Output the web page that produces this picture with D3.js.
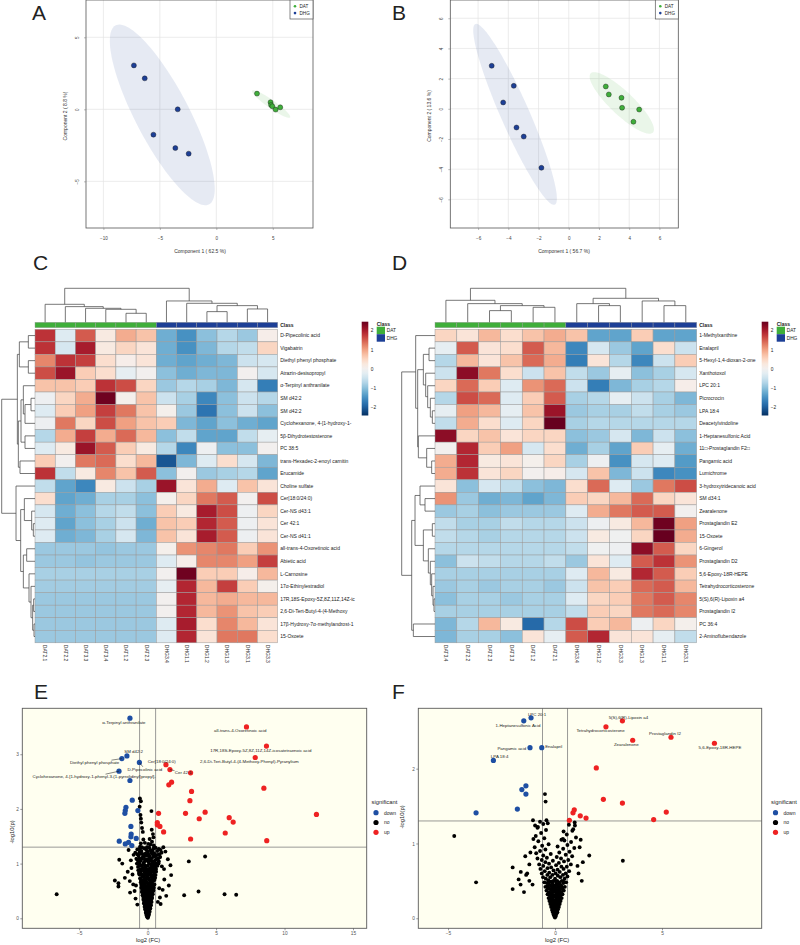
<!DOCTYPE html>
<html><head><meta charset="utf-8">
<script src="https://cdn.jsdelivr.net/npm/d3@7"></script>
<style>body{margin:0;background:#fff}svg{display:block}</style>
</head><body><svg id="c" width="800" height="945"></svg>
<script>
// ---------------- DATA ----------------
// PCA scores (Component 1, Component 2)
const pcaA_DAT = [[3.6,1.09],[4.8,0.49],[4.85,0.3],[4.96,0.21],[5.25,-0.02],[5.66,0.14]];
const pcaA_DHG = [[-7.3,3.05],[-6.34,2.15],[-3.42,0.0],[-5.57,-1.76],[-3.63,-2.69],[-2.45,-3.08]];
const pcaB_DAT = [[2.45,1.48],[2.65,0.95],[3.49,0.73],[3.53,0.07],[4.66,-0.05],[4.28,-0.86]];
const pcaB_DHG = [[-5.1,2.85],[-3.64,1.52],[-4.34,0.42],[-3.46,-1.24],[-2.98,-1.84],[-1.81,-3.91]];
const pcaA_xticks = [-10,-5,0,5], pcaA_yticks = [-5,0,5];
const pcaB_xticks = [-6,-4,-2,0,2,4,6], pcaB_yticks = [-6,-4,-2,0,2,4,6];
const groups = ["DAT","DHG"];

// Heatmap C
const hmC_cols = ["DAT2.1","DAT2.2","DAT3.3","DAT3.4","DAT1.2","DAT2.3","DHG3.4","DHG1.1","DHG1.2","DHG1.3","DHG3.1","DHG3.3"];
const hmC_class = ["DAT","DAT","DAT","DAT","DAT","DAT","DHG","DHG","DHG","DHG","DHG","DHG"];
const hmC_rows = ["D-Pipecolinic acid","Vigabatrin","Diethyl phenyl phosphate","Atrazin-desisopropyl","α-Terpinyl anthranilate","SM d42:2","SM d42:2","Cyclohexanone, 4-[1-hydroxy-1-","5β-Dihydrotestosterone","PC 38:5","trans-Hexadec-2-enoyl carnitin","Erucamide","Choline sulfate","Cer[18:0/24:0)","Cer-NS d43:1","Cer 42:1","Cer-NS d41:1","all-trans-4-Oxoretinoic acid","Abietic acid","L-Carnosine","17α-Ethinylestradiol","17R,18S-Epoxy-5Z,8Z,11Z,14Z-ic","2,6-Di-Tert-Butyl-4-(4-Methoxy","17β-Hydroxy-7α-methylandrost-1","15-Oxoete"];
const hmC_vals = [
[1.8,-0.3,1.5,0.2,0.9,0.7,-1.2,-1.5,-1.0,-0.7,-0.9,0.1],
[1.8,-0.4,2.0,0.2,0.5,0.3,-1.2,-1.5,-1.1,-0.7,-0.6,0.5],
[1.2,1.8,1.7,0.4,0.1,0.3,-1.2,-1.3,-1.2,-1.1,-0.5,-0.4],
[1.6,2.1,0.6,0.4,-0.2,0.0,-1.0,-1.2,-1.1,-1.1,0.0,-0.4],
[0.7,0.7,0.6,1.8,1.6,0.5,-0.9,-0.7,-0.8,-1.1,-0.4,-1.7],
[-0.1,0.5,0.9,2.4,0.05,0.7,-0.5,-0.8,-1.6,-1.0,-0.5,-0.7],
[-0.3,0.6,1.0,1.7,1.3,0.7,0.05,-0.9,-1.8,-1.0,-0.5,-1.0],
[-0.1,1.3,0.5,1.6,1.0,0.7,0.6,-1.1,-1.3,-1.0,-1.2,-1.3],
[-0.7,0.9,1.7,0.9,1.4,0.8,-1.0,-0.6,-1.3,-1.3,-0.6,-0.2],
[-0.3,0.2,2.1,1.5,0.6,0.2,-0.7,-1.6,-0.1,-1.0,-1.0,0.0],
[0.6,0.0,1.3,1.4,0.4,0.8,-2.1,-1.1,-0.3,0.4,-0.4,-1.1],
[1.8,-0.6,0.2,1.2,0.7,1.5,-1.0,0.0,-0.9,-0.8,-0.7,-1.3],
[-0.6,-1.3,-1.6,0.2,-0.5,-0.8,2.1,0.3,0.9,-0.3,0.7,0.3],
[0.4,-1.3,-1.2,-0.8,-0.8,-1.0,0.05,0.5,1.3,1.5,0.0,1.6],
[-0.4,-1.2,-1.0,-0.7,-0.6,-1.0,0.6,0.2,2.0,1.6,-0.1,0.5],
[-0.3,-1.3,-1.0,-0.8,-0.5,-1.2,0.7,0.6,1.9,1.5,-0.1,0.3],
[-0.3,-1.2,-1.1,-0.8,-0.4,-1.1,0.7,0.3,2.0,1.5,-0.1,0.3],
[-0.9,-0.9,-0.9,-0.95,-0.9,-0.9,0.05,1.1,1.2,1.3,0.6,1.1],
[-0.9,-0.9,-0.95,-0.9,-0.9,-0.9,-0.3,0.1,1.2,1.2,1.0,1.7],
[-0.8,-0.8,-0.8,-0.8,-0.8,-0.8,0.0,2.4,0.6,0.6,0.1,0.8],
[-0.85,-0.85,-0.85,-0.85,-0.85,-0.85,-0.2,1.9,0.8,1.7,0.6,0.05],
[-0.9,-0.9,-0.9,-0.9,-0.9,-0.9,0.0,1.9,0.8,0.9,0.8,0.8],
[-0.9,-0.9,-0.9,-0.9,-0.9,-0.9,0.0,1.9,0.8,1.1,0.7,0.6],
[-0.9,-0.9,-0.9,-0.9,-0.9,-0.9,-0.3,2.0,0.4,1.2,0.8,0.3],
[-0.9,-0.9,-0.9,-0.9,-0.9,-0.9,-0.3,1.9,0.3,1.3,1.3,0.4]];
// dendrograms: [left, right, mergeHeight]; leaves are indices
const hmC_colTree = [[0,[1,[2,[3,[4,5,27],39],42],47],54],[6,[7,[[8,9,32],[10,11,40],50],57],64],102];
const hmC_rowTree = [
  [[[0,1,20],[2,3,20],47],[[[4,[[5,6,12],7,30],35],[8,9,30],42],[10,11,45],50],53],
  [12,[[13,[14,[15,16,5],10],32],[[17,18,25],[19,[20,[[21,22,4],[23,24,3],7],12],18],35],43],57],
  100];

// Heatmap D
const hmD_cols = ["DAT3.4","DAT2.2","DAT2.3","DAT3.3","DAT1.2","DAT2.1","DHG3.4","DHG1.2","DHG3.3","DHG1.3","DHG1.1","DHG3.1"];
const hmD_class = ["DAT","DAT","DAT","DAT","DAT","DAT","DHG","DHG","DHG","DHG","DHG","DHG"];
const hmD_rows = ["1-Methylxanthine","Enalapril","5-Hexyl-1,4-dioxan-2-one","Xanthotoxol","LPC 20:1","Picrocrocin","LPA 18:4","Deacetylvindoline","1-Heptanesulfonic Acid","11\u25A1-Prostaglandin F2\u25A1","Pangamic acid","Lumichrome","3-hydroxytridecanoic acid","SM d34:1","Zearalenone","Prostaglandin E2","15-Oxoete","6-Gingerol","Prostaglandin D2","5,6-Epoxy-18R-HEPE","Tetrahydrocorticosterone","5(S),6(R)-Lipoxin a4","Prostaglandin I2","PC 36:4","2-Aminoflubendazole"];
const hmD_vals = [
[0.5,0.3,0.8,0.4,0.7,0.9,0.7,-1.3,-1.3,0.6,-1.3,-1.3],
[-0.2,1.5,0.3,0.4,1.5,0.8,-1.6,-0.4,-0.9,-1.3,0.4,-0.5],
[-0.7,0.8,0.3,0.7,1.4,0.9,-1.7,0.3,-0.7,-1.6,-0.5,0.6],
[-0.5,2.2,1.3,0.4,-0.5,0.7,-0.6,-0.9,-0.2,-1.0,-0.8,-0.4],
[0.5,1.4,0.6,-0.3,1.1,1.4,-0.5,-1.7,-1.1,-0.8,-0.7,0.1],
[-0.7,1.6,1.4,-0.3,0.6,1.5,-0.8,-0.7,-0.2,-0.5,-0.8,-1.1],
[-0.2,1.0,0.8,-0.2,0.7,2.1,-0.9,-0.8,-0.8,-0.6,-0.8,-0.9],
[-0.6,0.9,0.4,-0.3,0.5,2.45,-0.8,-0.7,-0.7,-0.7,-0.7,-0.7],
[2.2,0.5,0.7,0.3,0.5,0.5,-1.0,-0.9,-0.4,-1.1,-0.5,-1.0],
[0.0,1.9,0.6,1.0,-0.4,0.4,-1.2,-0.8,-1.3,0.6,-0.2,-1.2],
[0.9,1.9,0.2,0.3,0.05,0.5,-0.8,-0.1,-1.5,-0.4,-0.3,-1.4],
[0.9,1.8,0.3,0.5,0.0,0.1,-0.4,0.7,-1.1,-0.5,-1.6,-1.5],
[0.3,-1.0,-0.4,-0.6,-1.0,-1.1,0.4,1.4,-0.3,-0.9,1.3,1.6],
[1.1,-0.9,-1.2,-1.1,-1.3,-1.1,0.6,0.5,0.8,1.4,0.5,0.3],
[-0.9,-0.8,-1.0,-0.9,-0.9,-0.9,-0.3,0.9,1.3,1.5,1.5,0.0],
[-0.6,-0.8,-0.8,-0.6,-0.7,-0.7,-0.5,-0.1,0.2,0.8,2.4,1.0],
[-0.6,-0.7,-0.8,-0.7,-0.7,-0.7,-0.5,0.2,-0.05,0.5,2.5,0.9],
[-0.7,-0.7,-0.7,-0.7,-0.7,-0.7,-0.6,-0.05,-0.1,2.2,1.5,0.5],
[-1.0,-0.5,-0.6,-0.7,-0.7,-0.6,-0.9,0.3,-0.3,1.5,1.8,1.1],
[-0.8,-0.8,-0.8,-0.8,-0.8,-0.8,-0.3,0.8,0.2,1.9,1.5,0.6],
[-0.9,-0.8,-0.9,-0.8,-0.8,-0.9,-0.5,0.7,0.6,1.4,1.5,0.8],
[-1.0,-0.8,-0.8,-0.9,-0.8,-0.8,-0.3,0.5,0.6,1.3,1.5,1.2],
[-0.8,-0.8,-0.8,-0.8,-0.8,-0.8,-0.6,0.6,0.5,1.3,1.4,1.2],
[-1.1,-0.7,0.8,0.2,-1.9,-0.7,1.6,0.6,0.8,-0.1,0.5,0.05],
[-1.1,-0.8,-0.8,-1.0,0.3,-0.2,1.5,1.9,0.3,0.3,-0.2,-0.6]];
const hmD_colTree = [[0,[1,[[2,3,35],[4,5,45],50],56],66],[[6,[7,8,50],56],[9,[10,11,50],64],72],102];
const hmD_rowTree = [
  [0,[[[1,2,18],[3,[4,[5,[6,7,8],14],22],28],35],[8,[9,[10,11,10],25],50],52],58],
  [[[12,[13,14,30],45],[[15,16,8],[17,[18,[19,[20,[21,22,3],6],10],14],20],35],60],[23,24,65],70],
  100];
const legendTicks = [2,1,0,-1,-2];

// Volcano E: [log2(FC), -log10(p)]
const volE_down = [[-1.29,3.66],[-1.51,2.97],[-1.88,2.92],[-0.6,2.85],[-2.09,2.69],[-1.29,2.52],[-1.12,2.16],[-1.58,2.03],[-1.63,1.97],[-1.66,1.92],[-0.71,1.97],[-1.22,1.68],[-1.2,1.54],[-1.22,1.49],[-0.83,1.46],[-2.07,1.41],[-1.63,1.36],[-1.39,1.39],[-1.15,1.33]];
const volE_up = [[7.22,3.5],[8.68,3.15],[7.86,2.94],[1.34,2.81],[1.63,2.72],[3.14,2.66],[1.75,2.49],[1.55,2.44],[8.49,2.38],[3.21,2.32],[3.09,2.15],[2.77,1.92],[0.8,1.92],[4.2,1.94],[12.33,1.9],[3.77,1.82],[5.96,1.84],[6.25,1.76],[0.71,1.75],[0.71,1.71],[0.9,1.68],[1.17,1.58],[5.67,1.56],[3.14,1.45],[8.7,1.42]];
const volE_no = [[0.02,0.01],[-0.04,0.03],[0.06,0.04],[-0.09,0.06],[0.1,0.07],[0.01,0.09],[-0.13,0.1],[0.15,0.12],[-0.06,0.13],[0.07,0.15],[-0.18,0.16],[0.2,0.18],[-0.02,0.19],[-0.22,0.21],[0.12,0.22],[0.25,0.24],[-0.12,0.25],[-0.27,0.27],[0.03,0.28],[0.29,0.3],[-0.17,0.31],[0.15,0.33],[-0.31,0.34],[-0.05,0.36],[0.33,0.37],[0.22,0.39],[-0.24,0.4],[-0.37,0.42],[0.08,0.42],[0.38,0.44],[-0.11,0.46],[-0.42,0.48],[0.27,0.47],[0.01,0.5],[-0.29,0.52],[0.43,0.51],[0.15,0.54],[-0.46,0.56],[-0.16,0.57],[0.35,0.58],[0.04,0.6],[-0.35,0.62],[0.5,0.62],[0.22,0.64],[-0.5,0.66],[-0.08,0.66],[0.41,0.68],[-0.24,0.7],[0.12,0.71],[-0.55,0.73],[0.55,0.74],[0.3,0.75],[-0.4,0.76],[-0.02,0.78],[-0.6,0.8],[0.47,0.8],[0.18,0.82],[-0.2,0.83],[0.62,0.85],[-0.48,0.86],[-0.68,0.88],[0.36,0.88],[0.05,0.9],[-0.33,0.92],[0.55,0.93],[-0.12,0.95],[0.71,0.96],[-0.58,0.97],[0.25,0.98],[-0.78,1.0],[0.44,1.0],[-0.27,1.02],[0.08,1.03],[0.82,1.04],[-0.5,1.05],[0.6,1.07],[-0.05,1.08],[-0.82,1.09],[0.3,1.1],[-0.35,1.12],[0.92,1.12],[0.15,1.14],[-0.66,1.15],[0.7,1.16],[-0.15,1.18],[0.48,1.19],[-0.9,1.2],[1.02,1.2],[0.02,1.22],[-0.45,1.23],[0.36,1.24],[-0.75,1.26],[0.82,1.27],[-0.25,1.28],[0.58,1.29],
[-0.01,0.06],[0.04,0.11],[-0.08,0.17],[0.09,0.2],[-0.14,0.23],[0.18,0.27],[-0.21,0.29],[0.1,0.31],[-0.09,0.33],[0.26,0.35],[-0.3,0.38],[-0.02,0.4],[0.18,0.43],[-0.19,0.44],[0.32,0.49],[-0.36,0.5],[0.09,0.52],[-0.09,0.54],[0.45,0.56],[-0.41,0.59],[0.27,0.6],[-0.2,0.61],[0.12,0.63],[-0.44,0.69],[0.34,0.7],[0.02,0.72],[-0.13,0.74],[0.46,0.76],[-0.3,0.79],[0.26,0.79],[0.09,0.84],[-0.56,0.84],[-0.06,0.87],[0.52,0.89],[-0.4,0.9],[0.18,0.92],[-0.22,0.97],[0.38,0.96],[0.62,1.0],[-0.65,1.02],[-0.13,1.05],[0.22,1.06],[0.72,1.09],[-0.6,1.1],[0.45,1.13],[-0.05,1.15],[-0.3,1.17],[0.86,1.17],[0.26,1.2],[-0.58,1.21],[0.7,1.23],[-0.1,1.25],[0.12,1.29],[-0.42,1.3],
[0.0,0.02],[0.03,0.07],[-0.05,0.09],[0.08,0.1],[-0.1,0.12],[0.12,0.14],[-0.03,0.15],[-0.15,0.18],[0.05,0.17],[0.17,0.2],[-0.07,0.21],[-0.19,0.24],[0.07,0.25],[0.21,0.26],[-0.1,0.28],[-0.25,0.3],[0.13,0.29],[0.0,0.32],[0.24,0.32],[-0.14,0.35],[-0.28,0.36],[0.11,0.37],[0.3,0.4],[-0.18,0.39],[0.04,0.41],[-0.33,0.44],[0.23,0.45],[-0.07,0.44],[0.12,0.47],[-0.24,0.48],[0.37,0.48],[-0.4,0.52],[0.2,0.51],[-0.13,0.51],[0.03,0.55],[0.3,0.55],[-0.3,0.56],[-0.05,0.58],[0.16,0.58],[-0.45,0.62],[0.42,0.61],[-0.25,0.64],[0.0,0.64],[0.29,0.66],[-0.37,0.68],[0.17,0.68],[-0.14,0.69],[0.5,0.7],[-0.5,0.71],[0.07,0.74],[0.4,0.73],[-0.26,0.75],[-0.08,0.8],[0.33,0.78],[-0.42,0.8],[0.58,0.79],[0.12,0.8],[-0.63,0.83],[-0.25,0.86],[0.26,0.85],[0.45,0.84],[-0.02,0.84],[-0.52,0.9],[0.14,0.88],[0.62,0.9],[-0.15,0.91],[0.42,0.92],[0.0,0.96],[-0.7,0.94],[0.3,0.93],[-0.45,0.96],[0.55,0.98],[-0.33,0.99],[0.12,1.0],[0.8,1.0],[-0.6,1.01],[0.35,1.04],[-0.2,1.07],[-0.72,1.06],[0.52,1.05],[0.1,1.09],[-0.42,1.09],[0.8,1.1],[-0.25,1.13],[0.58,1.14],[0.05,1.17],[-0.75,1.17],[0.38,1.17],[-0.45,1.18],[0.95,1.25],[0.2,1.25],[-0.6,1.27],[0.45,1.28],[-0.05,1.3],
[0.2,1.35],[-0.2,1.38],[0.45,1.33],[-0.35,1.58],[0.15,1.45],[0.05,1.36],[-0.55,1.31],
[-6.64,0.44],[2.67,0.42],[3.72,0.49],[5.62,0.44],[6.47,0.43],[3.01,1.04],[4.2,1.13],[-2.39,0.69],[-2.13,0.64],[-2.13,0.58],[-1.66,0.74],[-2.07,1.07],[-1.85,1.0],[-1.39,1.25],[-0.56,2.19],[-0.49,2.14],[-0.58,2.04],[0.28,1.96],[-0.52,1.89],[-0.49,1.82],[-0.46,1.75],[-0.41,1.65],[0.3,1.62],[0.39,1.54],[0.43,1.48],[-0.31,1.44],[-0.49,1.37],[0.32,1.4],[1.67,0.97],[1.72,0.79],[1.04,0.95],[1.22,0.71],[0.95,0.26],[0.9,0.38],[-1.18,0.92],[-1.05,0.62],[-1.28,0.47],[-0.88,0.36],[-1.02,1.16],[-1.22,1.06],[1.3,1.22],[1.48,1.08],[1.1,0.52],[1.36,0.41],[1.15,1.3],[-1.1,0.8],[-0.95,0.5],[0.75,0.3],[-0.75,0.25],[1.2,0.9],[-1.45,0.85],[-1.3,0.68],[1.55,0.6],[0.85,0.55],[-0.85,0.6]];
// labels: [text, group, index, labelX, labelY]
const volE_labels = [
 ["α-Terpinyl anthranilate","down",0,-1.73,3.585],
 ["SM d42:2","down",1,-1.02,3.042],
 ["Diethyl phenyl phosphate","down",2,-3.87,2.846],
 ["D-Pipecolinic acid","down",3,-0.2,2.725],
 ["Cyclohexanone, 4-[1-hydroxy-1-phenyl-3-(1-pyrrolidinyl)propyl]-","down",4,-3.9,2.59],
 ["all-trans-4-Oxoretinoic acid","up",0,6.77,3.426],
 ["17R,18S-Epoxy-5Z,8Z,11Z,14Z-icosatetraenoic acid","up",1,8.27,3.066],
 ["2,6-Di-Tert-Butyl-4-(4-Methoxy-Phenyl)-Pyranylium","up",2,7.43,2.859],
 ["Cer[18:0/24:0)","up",3,1.03,2.872],
 ["Cer 42:1","up",4,2.6,2.663]];
const volE_xticks = [-5,0,5,10,15], volE_yticks = [0,1,2,3];

// Volcano F
const volF_down = [[-1.12,2.68],[-1.46,2.64],[-1.17,2.28],[-0.62,2.28],[-2.88,2.11],[-1.36,1.77],[-1.55,1.72],[-1.36,1.66],[-1.76,1.46],[-3.69,1.41]];
const volF_up = [[3.15,2.64],[2.38,2.56],[5.42,2.42],[3.63,2.38],[7.45,2.34],[1.93,2.01],[2.26,1.59],[3.15,1.54],[0.9,1.45],[0.84,1.41],[1.18,1.37],[1.45,1.34],[0.67,1.31],[5.2,1.42],[4.61,1.32]];
const volF_no = [[0.0,0.01],[-0.03,0.03],[0.04,0.03],[-0.07,0.05],[0.07,0.06],[0.0,0.06],[-0.1,0.08],[0.11,0.08],[-0.04,0.09],[0.04,0.1],
[-0.14,0.11],[0.14,0.12],[0.0,0.12],[-0.08,0.13],[0.08,0.14],[-0.18,0.15],[0.18,0.15],[-0.02,0.16],[0.11,0.17],[-0.12,0.17],[-0.22,0.19],[0.22,0.19],[0.04,0.19],[-0.06,0.2],
[0.15,0.21],[-0.16,0.22],[-0.26,0.23],[0.26,0.23],[0.0,0.23],[0.09,0.25],[-0.09,0.25],[-0.2,0.26],[0.2,0.26],[-0.3,0.27],[0.31,0.27],[0.03,0.28],[-0.13,0.29],[0.14,0.29],[0.25,0.3],[-0.24,0.3],
[-0.05,0.31],[-0.35,0.32],[0.35,0.32],[0.07,0.33],[-0.17,0.33],[0.19,0.34],[-0.28,0.35],[0.3,0.35],[-0.02,0.36],[-0.4,0.37],[0.41,0.37],[0.12,0.37],[-0.11,0.38],[0.24,0.39],[-0.22,0.39],[-0.33,0.4],[0.35,0.4],[0.02,0.4],
[-0.45,0.42],[0.46,0.42],[0.15,0.42],[-0.15,0.43],[-0.05,0.44],[0.28,0.44],[-0.27,0.45],[0.07,0.46],[-0.38,0.47],[0.39,0.47],[-0.5,0.48],[0.52,0.48],[0.2,0.48],[-0.19,0.49],[-0.08,0.5],[0.1,0.5],[0.32,0.5],
[-0.31,0.51],[-0.43,0.53],[0.45,0.53],[0.0,0.53],[-0.56,0.55],[0.25,0.55],[-0.22,0.55],[0.58,0.56],[0.13,0.57],[-0.12,0.58],[-0.36,0.58],[0.37,0.58],[-0.62,0.6],[0.03,0.6],[0.5,0.6],
[-0.27,0.61],[0.22,0.62],[-0.48,0.63],[0.66,0.63],[-0.07,0.64],[0.12,0.65],[-0.68,0.66],[0.4,0.66],[-0.35,0.67],[-0.18,0.68],[0.3,0.69],[0.55,0.69],[-0.55,0.7],
[0.05,0.71],[-0.74,0.72],[0.74,0.72],[-0.28,0.73],[0.18,0.74],[-0.45,0.75],[0.42,0.76],[-0.1,0.77],[0.62,0.78],[-0.62,0.78],[-0.82,0.8],[0.28,0.8],
[-0.38,0.81],[0.08,0.82],[0.8,0.83],[-0.55,0.84],[0.5,0.85],[-0.2,0.86],[-0.88,0.87],[0.2,0.88],[0.68,0.89],[-0.7,0.9],
[-0.45,0.92],[0.38,0.93],[0.9,0.94],[-0.95,0.95],[0.12,0.96],[-0.6,0.97],[0.58,0.98],[-0.3,0.99],
[0.75,1.02],[-0.78,1.03],[0.3,1.05],[-0.5,1.07],[0.98,1.08],[-0.9,1.1],[0.55,1.12],[-0.65,1.14],[0.4,1.16],[-0.42,1.18],[0.85,1.19],[-0.82,1.21],[0.65,1.25],[-0.55,1.26],[0.92,1.28],[-0.7,1.29],
[-0.02,0.02],[0.02,0.05],[-0.05,0.07],[0.06,0.09],[-0.09,0.1],[0.1,0.11],[-0.02,0.13],[0.05,0.16],[-0.15,0.16],[0.16,0.18],[-0.08,0.18],[-0.19,0.21],[0.07,0.21],[0.19,0.22],[-0.05,0.22],[-0.12,0.24],[0.13,0.26],[-0.24,0.26],[0.23,0.27],[0.06,0.3],[-0.08,0.29],[-0.19,0.31],[0.18,0.31],[0.29,0.32],[-0.3,0.34],[0.1,0.35],[-0.08,0.35],[0.22,0.37],[-0.16,0.37],[0.05,0.39],[-0.27,0.4],[0.18,0.41],[-0.1,0.41],[0.32,0.42],[-0.36,0.43],[0.0,0.43],[0.11,0.44],[-0.22,0.44],[0.22,0.46],[-0.12,0.47],[0.4,0.49],[-0.3,0.49],[0.04,0.49],
[-1.2,0.72],[-1.35,0.58],[-1.05,0.45],[-1.6,0.62],[-1.15,0.88],[-1.7,0.52],[1.05,0.7],[1.2,1.05],
[-4.71,1.1],[-3.69,0.48],[-1.98,0.68],[-1.98,0.39],[-1.61,0.45],[3.17,0.77],[1.6,0.84],[-0.47,1.66],[-0.44,1.56],[-1.39,0.83],[-1.03,1.31],[-0.93,1.24],[-0.8,1.22],[-0.4,1.31],[-0.34,1.27],[-1.01,1.06],[0.93,1.24],[0.81,1.17],[0.44,1.04],[0.37,1.06],[-1.3,0.6],[-1.2,0.5],[-1.45,0.35],[1.1,0.6],[1.25,0.5],[1.3,0.75],[1.15,0.95]];
const volF_labels = [
 ["LPC 20:1","down",0,-0.84,2.727],
 ["1-Heptanesulfonic Acid","down",1,-1.73,2.571],
 ["Pangamic acid","down",2,-2.02,2.263],
 ["Enalapril","down",3,-0.06,2.303],
 ["LPA 18:4","down",4,-2.59,2.16],
 ["5(S),6(R)-Lipoxin a4","up",0,3.43,2.682],
 ["Tetrahydrocorticosterone","up",1,2.13,2.504],
 ["Prostaglandin I2","up",2,5.14,2.464],
 ["Zearalenone","up",3,3.33,2.326],
 ["5,6-Epoxy-18R-HEPE","up",4,7.71,2.286]];
const volF_xticks = [-5,0,5], volF_yticks = [0,1,2];
const sigLevels = ["down","no","up"];

// ---------------- DRAWING ----------------
const FONT = "'Liberation Sans', Arial, Helvetica, sans-serif";
const svg = d3.select("#c").style("font-family", FONT);
const COL = {DAT:"#3fae3a", DHG:"#1d3f96", down:"#1e4fa3", no:"#000000", up:"#ee2222"};

// panel letters
[["A",32,20],["B",392,20],["C",33,270],["D",392,270],["E",34,699],["F",392,699]].forEach(([t,x,y])=>
  svg.append("text").attr("x",x).attr("y",y).attr("font-size",21).attr("fill","#222").text(t));

function ellipsePts(pts){
  const n=pts.length, mx=d3.mean(pts,d=>d[0]), my=d3.mean(pts,d=>d[1]);
  let sxx=0,syy=0,sxy=0;
  pts.forEach(([a,b])=>{sxx+=(a-mx)**2;syy+=(b-my)**2;sxy+=(a-mx)*(b-my);});
  sxx/=n-1; syy/=n-1; sxy/=n-1;
  const sx=Math.sqrt(sxx), sy=Math.sqrt(syy), d=Math.acos(sxy/(sx*sy)), t=Math.sqrt(5.991464547);
  return d3.range(0,121).map(i=>{const a=i/120*2*Math.PI;return [mx+t*sx*Math.cos(a+d/2), my+t*sy*Math.cos(a-d/2)];});
}

function pcaPanel(o){
  const g=svg.append("g");
  const x=d3.scaleLinear().domain(o.xdom).range([o.l,o.r]);
  const y=d3.scaleLinear().domain(o.ydom).range([o.b,o.t]);
  svg.append("clipPath").attr("id","cl"+o.id).append("rect").attr("x",o.l).attr("y",o.t).attr("width",o.r-o.l).attr("height",o.b-o.t);
  const inner=g.append("g").attr("clip-path",`url(#cl${o.id})`);
  o.xt.forEach(t=>inner.append("line").attr("x1",x(t)).attr("x2",x(t)).attr("y1",o.t).attr("y2",o.b).attr("stroke","#e4e4e4").attr("stroke-width",0.7));
  o.yt.forEach(t=>inner.append("line").attr("y1",y(t)).attr("y2",y(t)).attr("x1",o.l).attr("x2",o.r).attr("stroke","#e4e4e4").attr("stroke-width",0.7));
  const line=d3.line().x(d=>x(d[0])).y(d=>y(d[1]));
  [[o.dhg,COL.DHG],[o.dat,COL.DAT]].forEach(([pts,c])=>
    inner.append("path").attr("d",line(ellipsePts(pts))+"Z").attr("fill",c).attr("fill-opacity",0.11).attr("stroke","none"));
  [[o.dhg,COL.DHG],[o.dat,COL.DAT]].forEach(([pts,c])=>
    inner.selectAll(null).data(pts).enter().append("circle").attr("cx",d=>x(d[0])).attr("cy",d=>y(d[1])).attr("r",2.5)
      .attr("fill",c).attr("stroke","#1a1a1a").attr("stroke-width",0.4));
  g.append("rect").attr("x",o.l).attr("y",o.t).attr("width",o.r-o.l).attr("height",o.b-o.t).attr("fill","none").attr("stroke","#555").attr("stroke-width",0.8);
  const ax=g.append("g").attr("transform",`translate(0,${o.b})`).call(d3.axisBottom(x).tickValues(o.xt).tickSize(2).tickPadding(6.5).tickFormat(d3.format("d")));
  const ay=g.append("g").attr("transform",`translate(${o.l},0)`).call(d3.axisLeft(y).tickValues(o.yt).tickSize(2).tickFormat(d3.format("d")));
  [ax,ay].forEach(a=>{a.select(".domain").remove();a.selectAll("line").attr("stroke","#777").attr("stroke-width",0.5);
    a.selectAll("text").attr("font-size",4.6).attr("fill","#444").attr("font-family",FONT);});
  ay.selectAll("text").attr("transform","rotate(-90)").attr("x",0).attr("y",-6.9).attr("dy",0).attr("text-anchor","middle");
  g.append("text").attr("x",o.xtx).attr("y",o.b+25).attr("text-anchor","middle").attr("font-size",5).attr("fill","#333").text(o.xlab);
  g.append("text").attr("transform",`translate(${o.ytx},${(o.t+o.b)/2+2}) rotate(-90)`).attr("text-anchor","middle").attr("font-size",5).attr("fill","#333").text(o.ylab);
  // legend
  const lg=g.append("g");
  lg.append("rect").attr("x",o.r-23).attr("y",o.t).attr("width",23).attr("height",19).attr("fill","#fff").attr("stroke","#555").attr("stroke-width",0.7);
  groups.forEach((k,i)=>{
    lg.append("circle").attr("cx",o.r-18).attr("cy",o.t+6.3+i*6.8).attr("r",1.3).attr("fill",COL[k]);
    lg.append("text").attr("x",o.r-13.5).attr("y",o.t+8+i*6.8).attr("font-size",4.6).attr("fill","#222").text(k);
  });
}
pcaPanel({id:"A",l:86,r:313,t:0,b:228,xdom:[-11.54,8.56],ydom:[-8.24,7.59],xt:pcaA_xticks,yt:pcaA_yticks,dat:pcaA_DAT,dhg:pcaA_DHG,
  xlab:"Component 1 ( 62.5 %)",ylab:"Component 2 ( 8.8 %)",xtx:200,ytx:67});
pcaPanel({id:"B",l:450.3,r:678.3,t:0,b:228,xdom:[-7.84,7.25],ydom:[-7.9,7.21],xt:pcaB_xticks,yt:pcaB_yticks,dat:pcaB_DAT,dhg:pcaB_DHG,
  xlab:"Component 1 ( 56.7 %)",ylab:"Component 2 ( 13.6 %)",xtx:564,ytx:430.5});

// heatmaps
const colorScale = v => d3.interpolateRdBu(1-(v+2.45)/4.9);
function drawTree(g, tree, leafPos, toPx, orient){
  const segs=[];
  (function rec(n){
    if(typeof n==="number") return {p:leafPos(n),h:0};
    const a=rec(n[0]), b=rec(n[1]), h=n[2];
    segs.push([a.p,a.h,a.p,h],[b.p,b.h,b.p,h],[a.p,h,b.p,h]);
    return {p:(a.p+b.p)/2,h};
  })(tree);
  g.selectAll(null).data(segs).enter().append("line")
    .attr("x1",d=>orient==="col"?d[0]:toPx(d[1])).attr("y1",d=>orient==="col"?toPx(d[1]):d[0])
    .attr("x2",d=>orient==="col"?d[2]:toPx(d[3])).attr("y2",d=>orient==="col"?toPx(d[3]):d[2])
    .attr("stroke","#4a4a4a").attr("stroke-width",0.75);
}
function heatmap(o){
  const g=svg.append("g");
  const nC=o.cols.length, nR=o.rows.length;
  const x=d3.scaleBand().domain(d3.range(nC)).range([o.l,o.r]);
  const y=d3.scaleBand().domain(d3.range(nR)).range([o.t,o.t+o.ch*nR]);
  o.vals.forEach((row,i)=>row.forEach((v,j)=>{
    g.append("rect").attr("x",x(j)).attr("y",y(i)).attr("width",x.bandwidth()).attr("height",y.bandwidth())
     .attr("fill",colorScale(v)).attr("stroke","#9a9a9a").attr("stroke-width",0.5);
  }));
  o.cls.forEach((c,j)=>g.append("rect").attr("x",x(j)).attr("y",o.t-7).attr("width",x.bandwidth()).attr("height",5.4)
     .attr("fill",COL[c]).attr("stroke","#9a9a9a").attr("stroke-width",0.4));
  g.append("text").attr("x",o.r+2.5).attr("y",o.t-2.6).attr("font-size",5).attr("font-weight","bold").attr("fill","#222").text("Class");
  o.rows.forEach((t,i)=>g.append("text").attr("x",o.r+2.5).attr("y",y(i)+y.bandwidth()/2+1.7).attr("font-size",5).attr("fill","#222").text(t));
  o.cols.forEach((t,j)=>g.append("text").attr("transform",`translate(${x(j)+x.bandwidth()/2-1.7},${o.t+o.ch*nR+2}) rotate(90)`)
     .attr("font-size",5).attr("fill","#333").text(t));
  const colH=d3.scaleLinear().domain([0,o.colTree[2]]).range([o.t-7,o.t-41]);
  drawTree(g,o.colTree,j=>x(j)+x.bandwidth()/2,colH,"col");
  const rowH=d3.scaleLinear().domain([0,o.rowTree[2]]).range([o.l,o.l-33.3]);
  drawTree(g,o.rowTree,i=>y(i)+y.bandwidth()/2,rowH,"row");
  const lx=o.legX, ly0=321.7, ly1=415.5;
  const ls=d3.scaleLinear().domain([2.45,-2.45]).range([ly0,ly1]);
  const gid="grad"+o.id;
  const grad=svg.append("defs").append("linearGradient").attr("id",gid).attr("x1",0).attr("x2",0).attr("y1",0).attr("y2",1);
  d3.range(0,21).forEach(k=>grad.append("stop").attr("offset",k/20).attr("stop-color",colorScale(2.45-4.9*k/20)));
  g.append("rect").attr("x",lx).attr("y",ly0).attr("width",6.6).attr("height",ly1-ly0).attr("fill",`url(#${gid})`);
  const la=g.append("g").attr("transform",`translate(${lx+6.6},0)`).call(d3.axisRight(ls).tickValues(legendTicks).tickSize(0).tickPadding(2.5).tickFormat(d3.format("d")));
  la.select(".domain").remove();
  la.selectAll("text").attr("font-size",4.8).attr("fill","#222").attr("font-family",FONT);
  const cx=lx+15;
  g.append("text").attr("x",cx).attr("y",325.5).attr("font-size",5).attr("font-weight","bold").attr("fill","#222").text("Class");
  groups.forEach((k,i)=>{
    g.append("rect").attr("x",cx).attr("y",326.7+i*7.5).attr("width",8.3).attr("height",7.5).attr("fill",COL[k]);
    g.append("text").attr("x",cx+10).attr("y",332+i*7.5).attr("font-size",4.8).attr("fill","#222").text(k);
  });
}
heatmap({id:"C",l:35,r:277.7,t:329.3,ch:12.54,cols:hmC_cols,cls:hmC_class,rows:hmC_rows,vals:hmC_vals,colTree:hmC_colTree,rowTree:hmC_rowTree,legX:361.7});
heatmap({id:"D",l:435,r:696.7,t:329.3,ch:12.54,cols:hmD_cols,cls:hmD_class,rows:hmD_rows,vals:hmD_vals,colTree:hmD_colTree,rowTree:hmD_rowTree,legX:761.7});

// volcano plots
function volcano(o){
  const g=svg.append("g");
  const x=d3.scaleLinear().domain(o.xdom).range([o.l,o.r]);
  const y=d3.scaleLinear().domain(o.ydom).range([o.b,o.t]);
  g.append("rect").attr("x",o.l).attr("y",o.t).attr("width",o.r-o.l).attr("height",o.b-o.t).attr("fill","#fffff0");
  [-0.585,0.585].forEach(v=>g.append("line").attr("x1",x(v)).attr("x2",x(v)).attr("y1",o.t).attr("y2",o.b).attr("stroke","#808080").attr("stroke-width",0.8));
  g.append("line").attr("x1",o.l).attr("x2",o.r).attr("y1",y(1.301)).attr("y2",y(1.301)).attr("stroke","#808080").attr("stroke-width",0.8);
  g.selectAll(null).data(o.no).enter().append("circle").attr("cx",d=>x(d[0])).attr("cy",d=>y(d[1])).attr("r",1.95).attr("fill",COL.no);
  const sets={down:o.down,up:o.up};
  ["down","up"].forEach(k=>g.selectAll(null).data(sets[k]).enter().append("circle").attr("cx",d=>x(d[0])).attr("cy",d=>y(d[1])).attr("r",2.6).attr("fill",COL[k]));
  o.labels.forEach(([t,k,i,lx,ly])=>{
    const p=sets[k][i], px=x(p[0]), py=y(p[1]), tx=x(lx), ty=y(ly);
    const tt=g.append("text").attr("x",tx).attr("y",ty+1.5).attr("text-anchor","middle").attr("font-size",4.4).attr("fill","#222").text(t);
    const bb=tt.node().getBBox();
    const inside=px>=bb.x-1&&px<=bb.x+bb.width+1&&py>=bb.y-1&&py<=bb.y+bb.height+1;
    const dx=tx-px, dy=ty-py;
    const hx=bb.width/2, hy=bb.height/2;
    const sx=dx!==0?(Math.abs(dx)-hx)/Math.abs(dx):-1, sy=dy!==0?(Math.abs(dy)-hy)/Math.abs(dy):-1;
    const s=Math.max(sx,sy);
    const len=Math.hypot(dx,dy)*s;
    if(!inside && s>0 && len>4.5){
      g.append("line").attr("x1",px).attr("y1",py).attr("x2",px+dx*s).attr("y2",py+dy*s).attr("stroke","#111").attr("stroke-width",0.5);
    }
  });
  g.append("rect").attr("x",o.l).attr("y",o.t).attr("width",o.r-o.l).attr("height",o.b-o.t).attr("fill","none").attr("stroke","#5a5a5a").attr("stroke-width",0.9);
  const ax=g.append("g").attr("transform",`translate(0,${o.b})`).call(d3.axisBottom(x).tickValues(o.xt).tickSize(2).tickPadding(1.5).tickFormat(d3.format("d")));
  const ay=g.append("g").attr("transform",`translate(${o.l},0)`).call(d3.axisLeft(y).tickValues(o.yt).tickSize(2).tickPadding(1.5).tickFormat(d3.format("d")));
  [ax,ay].forEach(a=>{a.select(".domain").remove();a.selectAll("line").attr("stroke","#555").attr("stroke-width",0.6);
    a.selectAll("text").attr("font-size",4.8).attr("fill","#555").attr("font-family",FONT);});
  g.append("text").attr("x",o.xtx).attr("y",942).attr("text-anchor","middle").attr("font-size",5.8).attr("fill","#222").text("log2 (FC)");
  g.append("text").attr("transform",`translate(${o.ytx},${o.yty}) rotate(-90)`).attr("text-anchor","middle").attr("font-size",5.8).attr("fill","#222").text("-log10(p)");
  const lg=g.append("g");
  if(o.clipX){ svg.append("clipPath").attr("id","lc"+o.id).append("rect").attr("x",0).attr("y",0).attr("width",o.clipX).attr("height",945); lg.attr("clip-path",`url(#lc${o.id})`);}
  lg.append("text").attr("x",o.legX).attr("y",804).attr("font-size",5.8).attr("fill","#222").text("significant");
  sigLevels.forEach((k,i)=>{
    lg.append("circle").attr("cx",o.legX+4.5).attr("cy",812.7+i*9.8).attr("r",2.6).attr("fill",COL[k]);
    lg.append("text").attr("x",o.legX+12.5).attr("y",814.5+i*9.8).attr("font-size",5).attr("fill","#222").text(k);
  });
}
volcano({id:"E",l:22.3,r:366.7,t:708.3,b:928.3,xdom:[-9.15,16.0],ydom:[-0.183,3.84],xt:volE_xticks,yt:volE_yticks,
  no:volE_no,down:volE_down,up:volE_up,labels:volE_labels,xtx:148,ytx:14,yty:832,legX:371.5,clipX:399.5});
volcano({id:"F",l:418.3,r:761.7,t:708.3,b:928.3,xdom:[-6.39,9.66],ydom:[-0.134,2.807],xt:volF_xticks,yt:volF_yticks,
  no:volF_no,down:volF_down,up:volF_up,labels:volF_labels,xtx:557,ytx:403.5,yty:817,legX:771});
</script></body></html>
